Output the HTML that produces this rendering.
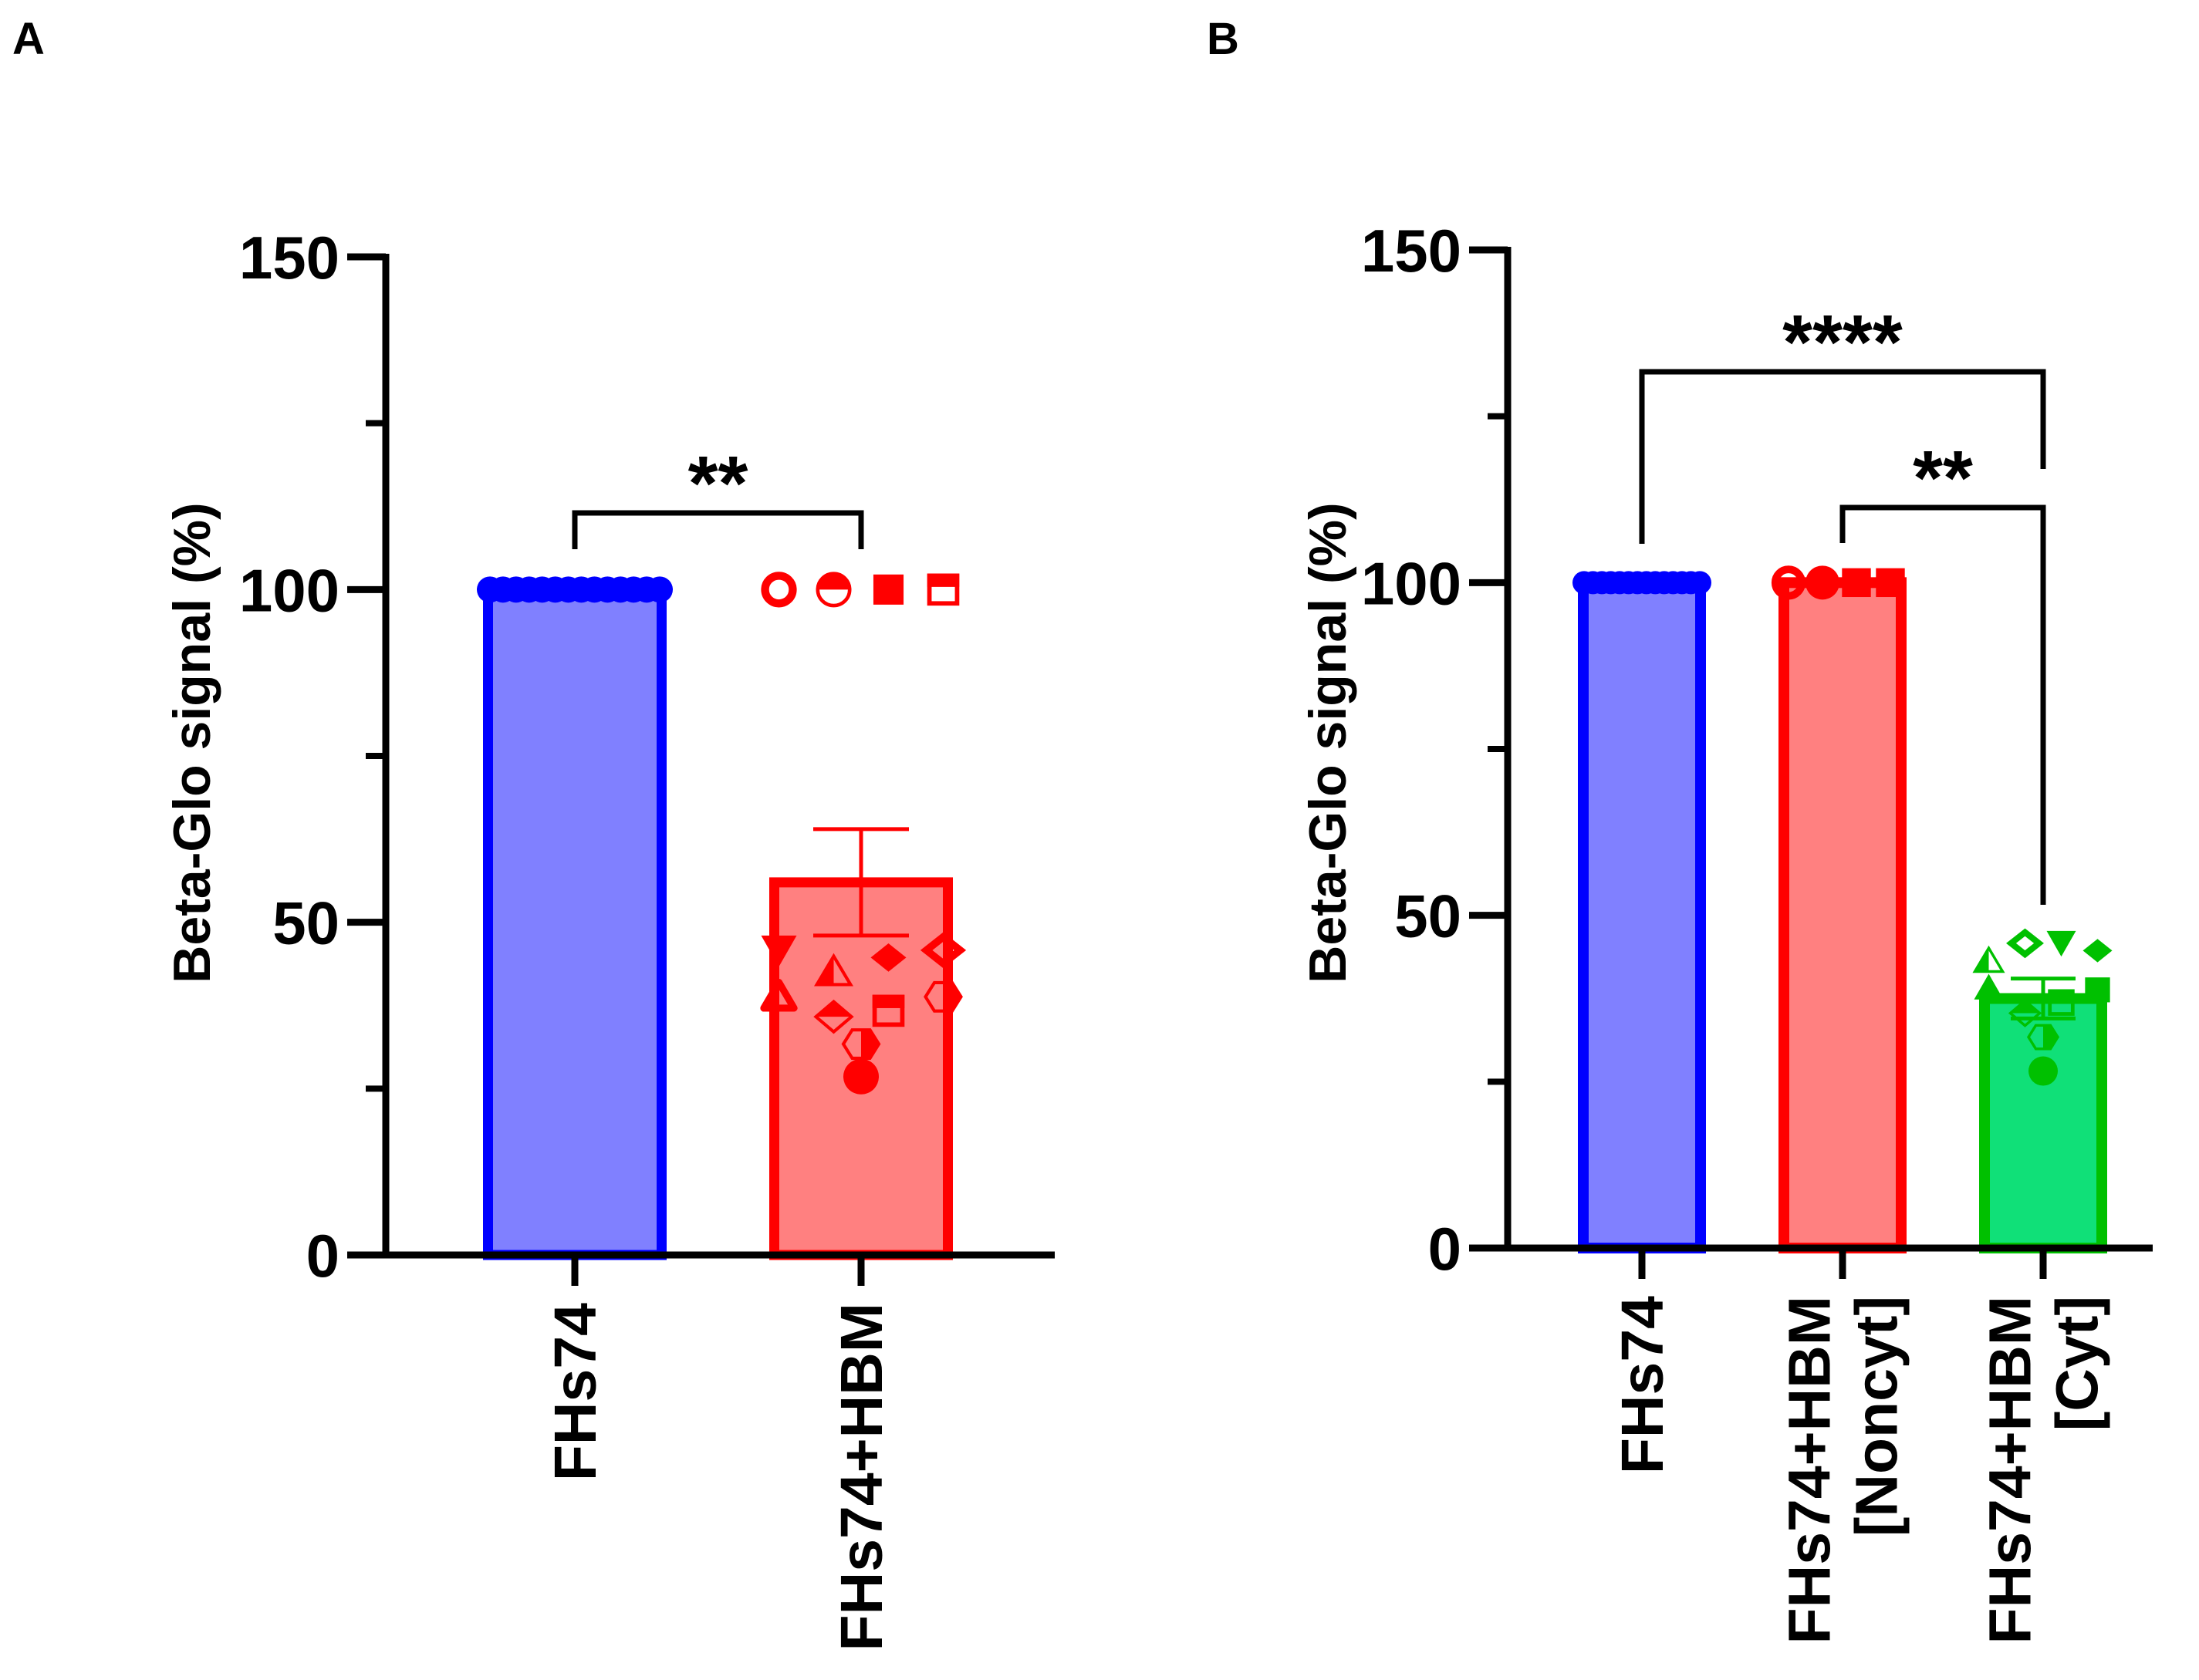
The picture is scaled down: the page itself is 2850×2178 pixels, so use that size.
<!DOCTYPE html>
<html><head><meta charset="utf-8"><style>
html,body{margin:0;padding:0;background:#fff}
svg{display:block}
text{font-family:"Liberation Sans",Arial,sans-serif;font-weight:bold}
</style></head><body>
<svg id="chart" width="2850" height="2178" viewBox="0 0 2850 2178" xmlns="http://www.w3.org/2000/svg">
<text x="16" y="70" font-size="58">A</text>
<text x="1564" y="70" font-size="58">B</text>
<g id="pa"></g>
<g id="pb"></g>
</svg>
<script>
// ---- data ----
const yTicks = [0, 50, 100, 150];
const yMinorTicks = [25, 75, 125];
const aCategories = ["FHs74", "FHs74+HBM"];
const aMeans = [100, 56];
const aErr = [0, 8];
const aBluePoints = [100,100,100,100,100,100,100,100,100,100,100,100,100,100];
const aRedValues = [100,100,100,100,46,38.7,42.5,44.7,45.8,35.8,36.7,38.8,31.7,26.8];
const aRedShapes = ["ocircle","hcircle","square","hsquare","dtri","otri","htri","diamond","odiamond","hdiamond","hsquare","hex","hex","circle"];
const aRedSlots = [-1.5,-0.5,0.5,1.5,-1.5,-1.5,-0.5,0.5,1.5,-0.5,0.5,1.5,0,0];
const bCategories = [["FHs74"],["FHs74+HBM","[Noncyt]"],["FHs74+HBM","[Cyt]"]];
const bMeans = [100, 100, 37.5];
const bErr = [0, 0, 3];
const bBluePoints = [100,100,100,100,100,100,100,100,100,100,100,100,100,100];
const bRedValues = [100,100,100,100];
const bRedShapes = ["ocircle","circle","square","square"];
const bGreenValues = [43.1,39,45.8,46,44.7,38.8,36.9,35.3,31.7,26.6];
const bGreenShapes = ["htri","tri","odiamond","dtri","diamond","square","hsquare","hdiamond","hex","circle"];
const bGreenSlots = [-1.5,-1.5,-0.5,0.5,1.5,1.5,0.5,-0.5,0,0];
const aSig = ["**"];
const bSig = ["****","**"];

const NS="http://www.w3.org/2000/svg";
function el(parent,tag,attrs){const e=document.createElementNS(NS,tag);for(const k in attrs)e.setAttribute(k,attrs[k]);parent.appendChild(e);return e;}

function marker(g,shape,cx,cy,col,r){
  let e;
  const pts=(arr)=>arr.map(p=>(cx+p[0]*r)+","+(cy+p[1]*r)).join(" ");
  if(shape==="circle"){e=el(g,"circle",{cx:cx,cy:cy,r:r,fill:col});}
  else if(shape==="ocircle"){e=el(g,"circle",{cx:cx,cy:cy,r:r*0.78,fill:"none",stroke:col,"stroke-width":r*0.45});}
  else if(shape==="hcircle"){e=el(g,"g",{});el(e,"circle",{cx:cx,cy:cy,r:r*0.9,fill:"none",stroke:col,"stroke-width":r*0.2});el(e,"path",{d:`M${cx-r*0.9},${cy} A${r*0.9},${r*0.9} 0 0 1 ${cx+r*0.9},${cy} Z`,fill:col});}
  else if(shape==="square"){e=el(g,"rect",{x:cx-r*0.85,y:cy-r*0.85,width:r*1.7,height:r*1.7,fill:col});}
  else if(shape==="hsquare"){e=el(g,"g",{});el(e,"rect",{x:cx-r*0.78,y:cy-r*0.78,width:r*1.56,height:r*1.56,fill:"none",stroke:col,"stroke-width":r*0.25});el(e,"rect",{x:cx-r*0.9,y:cy-r*0.9,width:r*1.8,height:r*0.75,fill:col});}
  else if(shape==="tri"){e=el(g,"polygon",{points:pts([[0,-1],[1,0.75],[-1,0.75]]),fill:col});}
  else if(shape==="otri"){e=el(g,"polygon",{points:pts([[0,-0.85],[0.85,0.6],[-0.85,0.6]]),fill:"none",stroke:col,"stroke-width":r*0.4,"stroke-linejoin":"round"});}
  else if(shape==="htri"){e=el(g,"g",{});el(e,"polygon",{points:pts([[0,-0.9],[0.95,0.7],[-0.95,0.7]]),fill:"none",stroke:col,"stroke-width":r*0.18});el(e,"polygon",{points:pts([[0,-0.9],[0,0.7],[-0.95,0.7]]),fill:col});}
  else if(shape==="dtri"){e=el(g,"polygon",{points:pts([[-1,-0.75],[1,-0.75],[0,1]]),fill:col});}
  else if(shape==="diamond"){e=el(g,"polygon",{points:pts([[0,-0.8],[1,0],[0,0.8],[-1,0]]),fill:col});}
  else if(shape==="odiamond"){e=el(g,"polygon",{points:pts([[0,-0.75],[0.95,0],[0,0.75],[-0.95,0]]),fill:"none",stroke:col,"stroke-width":r*0.42});}
  else if(shape==="hdiamond"){e=el(g,"g",{});el(e,"polygon",{points:pts([[0,-0.85],[1,0],[0,0.85],[-1,0]]),fill:"none",stroke:col,"stroke-width":r*0.18});el(e,"polygon",{points:pts([[0,-0.85],[1,0],[-1,0]]),fill:col});}
  else if(shape==="hex"){e=el(g,"g",{});el(e,"polygon",{points:pts([[-0.5,-0.8],[0.5,-0.8],[1,0],[0.5,0.8],[-0.5,0.8],[-1,0]]),fill:"none",stroke:col,"stroke-width":r*0.18});el(e,"polygon",{points:pts([[0,-0.8],[0.5,-0.8],[1,0],[0.5,0.8],[0,0.8]]),fill:col});}
  
  
  return e;
}

function panel(g,cfg){
  const y=v=>cfg.y0-(v/150)*(cfg.y0-cfg.y150);
  yTicks.forEach(t=>{
    const l=el(g,"line",{x1:cfg.ax-50,x2:cfg.ax,y1:y(t),y2:y(t),stroke:"#000","stroke-width":9});
    
    
    const tx=el(g,"text",{x:cfg.ax-60,y:y(t)+28,"font-size":78,"text-anchor":"end"});
    tx.textContent=t;
    
    
  });
  yMinorTicks.forEach(t=>{
    const l=el(g,"line",{x1:cfg.ax-26,x2:cfg.ax,y1:y(t),y2:y(t),stroke:"#000","stroke-width":8});
    
    
  });
  const yl=el(g,"text",{x:0,y:0,"font-size":68,"text-anchor":"middle",transform:`translate(${cfg.ylx},963) rotate(-90)`});
  yl.textContent="Beta-Glo signal (%)";
  
  
  cfg.groups.forEach((gr,i)=>{
    const cx=cfg.centers[i],w=cfg.bw,bt=cfg.bt;
    const b=el(g,"rect",{x:cx-w/2+bt/2,y:y(gr.mean),width:w-bt,height:cfg.y0-y(gr.mean),fill:gr.fill,stroke:gr.stroke,"stroke-width":bt});
    
    
    if(gr.err>0){
      const eg=el(g,"g",{stroke:gr.stroke,"stroke-width":5,fill:"none"});
      
      
      el(eg,"line",{x1:cx,x2:cx,y1:y(gr.mean+gr.err),y2:y(gr.mean-gr.err)});
      el(eg,"line",{x1:cx-cfg.ew,x2:cx+cfg.ew,y1:y(gr.mean+gr.err),y2:y(gr.mean+gr.err)});
      el(eg,"line",{x1:cx-cfg.ew,x2:cx+cfg.ew,y1:y(gr.mean-gr.err),y2:y(gr.mean-gr.err)});
    }
    const xt=el(g,"line",{x1:cx,x2:cx,y1:cfg.y0,y2:cfg.y0+40,stroke:"#000","stroke-width":9});
    
    
    gr.label.forEach((ln,j)=>{
      const n=gr.label.length;
      const off=(j-(n-1)/2)*87;
      const t=el(g,"text",{x:0,y:0,"font-size":77,"text-anchor":"end",transform:`translate(${cx+off+27},${cfg.y0+62}) rotate(-90)`});
      t.textContent=ln;
      
      
    });
    gr.points.forEach((p,k)=>{
      marker(g,p.shape,cx+p.dx,y(p.v),gr.stroke,p.r);
    });
  });
  const ya=el(g,"line",{x1:cfg.ax,x2:cfg.ax,y1:cfg.y150-4,y2:cfg.y0+4,stroke:"#000","stroke-width":9});
  
  
  const xa=el(g,"line",{x1:cfg.ax,x2:cfg.xend,y1:cfg.y0,y2:cfg.y0,stroke:"#000","stroke-width":9});
  
  
  cfg.brackets.forEach(br=>{
    const bg=el(g,"polyline",{points:`${br.x1},${br.yl} ${br.x1},${br.y} ${br.x2},${br.y} ${br.x2},${br.yr}`,fill:"none",stroke:"#000","stroke-width":7});
    
    
    const st=el(g,"text",{x:(br.tx||(br.x1+br.x2)/2),y:br.y-4,"font-size":100,"text-anchor":"middle"});
    st.textContent=br.text;
    
    
  });
}

function rowPoints(vals,shape,width,r){
  return vals.map((v,i)=>({v:v,shape:shape,r:r,dx:-width/2+width*i/(vals.length-1)}));
}

panel(document.getElementById('pa'),{
  ax:500,xend:1367,y0:1627,y150:333,bw:238,bt:13,ew:62,ylx:272,
  centers:[745,1116],
  groups:[
    {mean:aMeans[0],err:aErr[0],fill:"#8080FF",stroke:"#0000FF",label:[aCategories[0]],points:rowPoints(aBluePoints,"circle",220,17)},
    {mean:aMeans[1],err:aErr[1],fill:"#FF8080",stroke:"#FF0000",label:[aCategories[1]],
     points:aRedValues.map((v,i)=>({v:v,shape:aRedShapes[i],r:23,dx:aRedSlots[i]*71}))}
  ],
  brackets:[{x1:745,x2:1116,y:665,yl:712,yr:712,text:aSig[0]}]
});

panel(document.getElementById('pb'),{
  ax:1954,xend:2790,y0:1618,y150:324,bw:166,bt:14,ew:42,ylx:1744,
  centers:[2128,2388,2648],
  groups:[
    {mean:bMeans[0],err:bErr[0],fill:"#8080FF",stroke:"#0000FF",label:bCategories[0],points:rowPoints(bBluePoints,"circle",150,15)},
    {mean:bMeans[1],err:bErr[1],fill:"#FF8080",stroke:"#FF0000",label:bCategories[1],
     points:bRedValues.map((v,i)=>({v:v,shape:bRedShapes[i],r:22,dx:-70+i*44}))},
    {mean:bMeans[2],err:bErr[2],fill:"#10E078",stroke:"#00C000",label:bCategories[2],
     points:bGreenValues.map((v,i)=>({v:v,shape:bGreenShapes[i],r:19,dx:bGreenSlots[i]*47}))}
  ],
  brackets:[
    {x1:2128,x2:2648,y:482,yl:705,yr:608,text:bSig[0]},
    {x1:2388,x2:2648,y:658,yl:704,yr:1173,text:bSig[1],tx:2518}
  ]
});
</script>
</body></html>
